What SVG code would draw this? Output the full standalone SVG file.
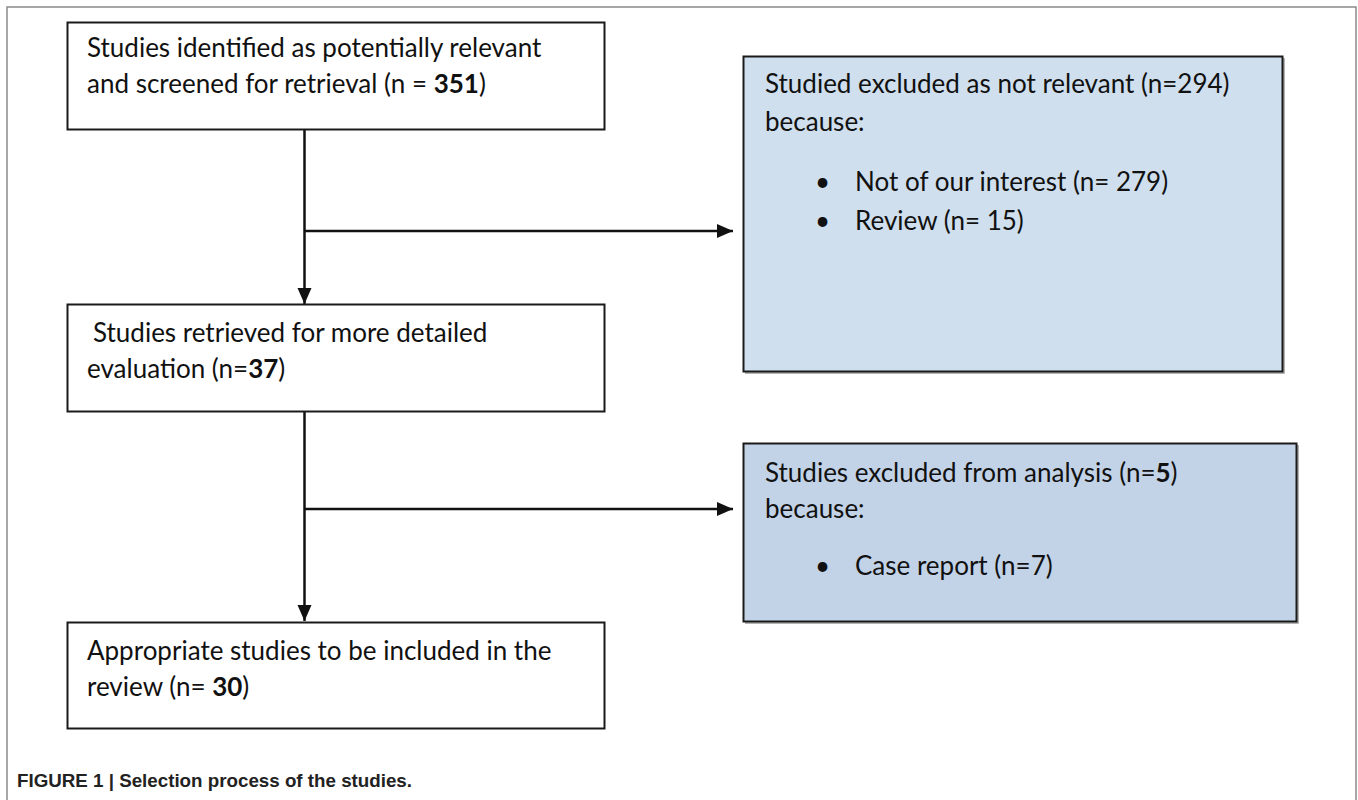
<svg xmlns="http://www.w3.org/2000/svg" width="1358" height="800" viewBox="0 0 1358 800">
<style>
.box{stroke:#1a1a1a;stroke-width:2;}
.sh{fill:none;stroke:#9a9a9a;stroke-width:1.5;}
.w{fill:#ffffff;}
.b1{fill:#cfdfee;}
.b2{fill:#c3d3e7;}
.t{font-family:Lato,"Open Sans",sans-serif;font-size:26px;fill:#111;}
.bd{font-weight:bold;}
.cap{font-family:"Liberation Sans",Arial,sans-serif;font-size:19px;font-weight:bold;fill:#222;}
.ln{stroke:#111;stroke-width:2.5;fill:none;}
</style>
<defs>
<marker id="ah" markerUnits="userSpaceOnUse" markerWidth="17" markerHeight="15" refX="16" refY="7" orient="auto">
<path d="M0,0 L16,7 L0,14 z" fill="#111"/>
</marker>
</defs>
<rect x="0" y="0" width="1358" height="800" fill="#ffffff"/>
<rect x="7" y="7" width="1349" height="810" fill="none" stroke="#8a8a8a" stroke-width="1.5"/>

<g id="connectors">
<line class="ln" x1="304.5" y1="130" x2="304.5" y2="304" marker-end="url(#ah)"/>
<line class="ln" x1="304.5" y1="231" x2="733" y2="231" marker-end="url(#ah)"/>
<line class="ln" x1="304.5" y1="412" x2="304.5" y2="621" marker-end="url(#ah)"/>
<line class="ln" x1="304.5" y1="509" x2="733" y2="509" marker-end="url(#ah)"/>
</g>

<g id="node-identified">
<rect class="box w" x="67.5" y="22.5" width="537" height="107"/>
<text class="t" x="87" y="57">Studies identified as potentially relevant</text>
<text class="t" x="87" y="93">and screened for retrieval (n = <tspan class="bd">351</tspan>)</text>
</g>

<g id="node-excluded-not-relevant">
<path class="sh" d="M745,373 H1284 V58"/>
<rect class="box b1" x="743.5" y="56.5" width="539" height="315"/>
<text class="t" x="765" y="93">Studied excluded as not relevant (n=294)</text>
<text class="t" x="765" y="131">because:</text>
<text class="t" x="815" y="191">•</text>
<text class="t" x="855" y="191">Not of our interest (n= 279)</text>
<text class="t" x="815" y="230">•</text>
<text class="t" x="855" y="230">Review (n= 15)</text>
</g>

<g id="node-retrieved">
<rect class="box w" x="67.5" y="304.5" width="537" height="107"/>
<text class="t" x="93" y="342">Studies retrieved for more detailed</text>
<text class="t" x="87" y="378">evaluation (n=<tspan class="bd">37</tspan>)</text>
</g>

<g id="node-excluded-analysis">
<path class="sh" d="M745,623 H1298 V445"/>
<rect class="box b2" x="743.5" y="443.5" width="553" height="178"/>
<text class="t" x="765" y="482">Studies excluded from analysis (n=<tspan class="bd">5</tspan>)</text>
<text class="t" x="765" y="518">because:</text>
<text class="t" x="815" y="575">•</text>
<text class="t" x="855" y="575">Case report (n=7)</text>
</g>

<g id="node-included">
<rect class="box w" x="67.5" y="622.5" width="537" height="106"/>
<text class="t" x="87" y="660">Appropriate studies to be included in the</text>
<text class="t" x="87" y="696">review (n= <tspan class="bd">30</tspan>)</text>
</g>

<text class="cap" x="17" y="787" textLength="395" lengthAdjust="spacingAndGlyphs">FIGURE 1 | Selection process of the studies.</text>
</svg>
